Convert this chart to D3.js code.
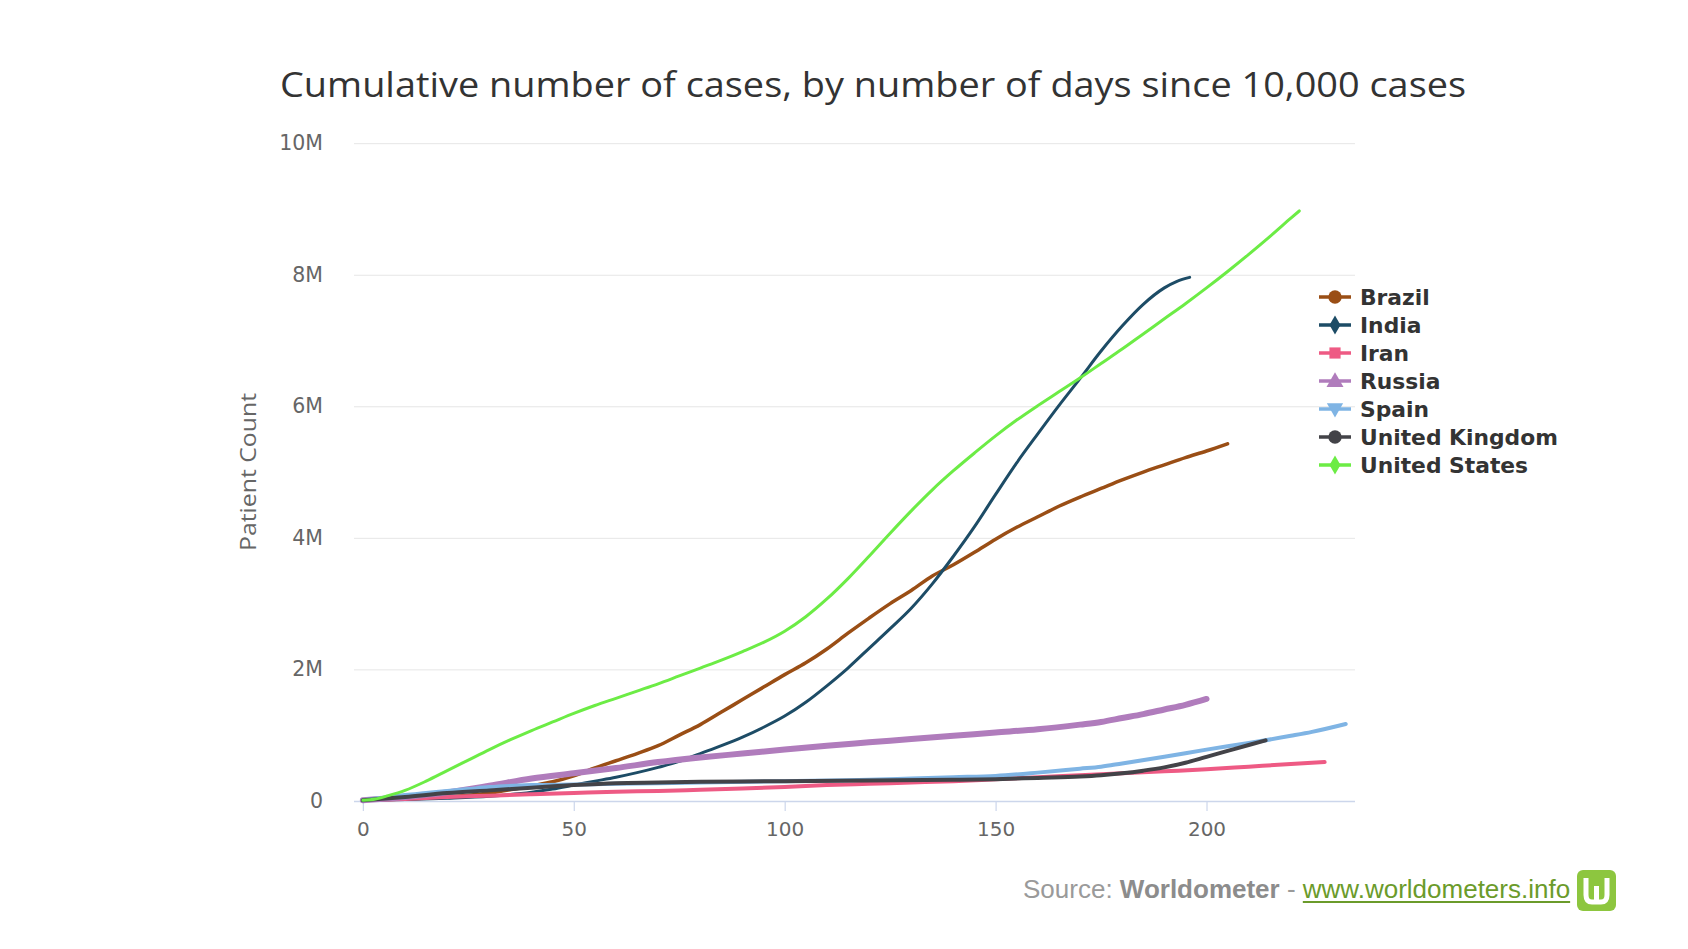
<!DOCTYPE html>
<html>
<head>
<meta charset="utf-8">
<script src="https://cdn.jsdelivr.net/npm/d3@7"></script>
<style>
  html, body { margin: 0; padding: 0; background: #fff; }
  svg { display: block; }
</style>
</head>
<body>
<svg id="chart" width="1688" height="949"></svg>
<script>
// ---------- DATA (values in millions of cases, by days since 10,000 cases) ----------
const seriesNames = ["Brazil", "India", "Iran", "Russia", "Spain", "United Kingdom", "United States"];

const brazilData = [[0,0.01],[10,0.03],[20,0.06],[30,0.12],[40,0.23],[45,0.29],[50,0.38],[55,0.50],[60,0.61],[65,0.72],[70,0.84],[75,1.00],[80,1.16],[85,1.35],[90,1.54],[95,1.73],[100,1.92],[105,2.10],[110,2.31],[115,2.55],[120,2.78],[125,3.00],[130,3.20],[135,3.42],[140,3.59],[145,3.78],[150,3.98],[155,4.16],[160,4.32],[165,4.48],[170,4.62],[175,4.75],[180,4.88],[185,5.00],[190,5.11],[195,5.22],[200,5.32],[205,5.43]];

const indiaData = [[0,0.01],[10,0.02],[20,0.04],[30,0.07],[40,0.13],[45,0.18],[50,0.24],[55,0.30],[60,0.36],[65,0.43],[70,0.51],[75,0.60],[80,0.72],[85,0.84],[90,0.97],[95,1.12],[100,1.29],[105,1.50],[110,1.75],[115,2.02],[120,2.32],[125,2.62],[130,2.93],[135,3.30],[140,3.72],[145,4.17],[150,4.66],[155,5.14],[160,5.58],[165,6.01],[170,6.42],[175,6.84],[180,7.22],[185,7.55],[190,7.80],[193,7.90],[196,7.96]];

const iranData = [[0,0.01],[10,0.03],[20,0.06],[30,0.08],[40,0.10],[50,0.12],[60,0.14],[70,0.15],[80,0.17],[90,0.19],[100,0.21],[110,0.24],[120,0.26],[130,0.28],[140,0.30],[150,0.33],[160,0.36],[170,0.39],[180,0.42],[190,0.45],[200,0.48],[210,0.52],[220,0.56],[228,0.59]];

const russiaData = [[0,0.01],[10,0.06],[20,0.13],[30,0.23],[40,0.34],[50,0.42],[60,0.50],[70,0.59],[80,0.66],[90,0.72],[100,0.78],[110,0.84],[120,0.89],[130,0.94],[140,0.99],[150,1.04],[160,1.09],[170,1.16],[175,1.20],[180,1.26],[185,1.32],[190,1.39],[195,1.46],[200,1.55]];

const spainData = [[0,0.01],[5,0.05],[10,0.09],[15,0.12],[20,0.15],[25,0.18],[30,0.21],[40,0.24],[50,0.25],[60,0.26],[80,0.28],[100,0.30],[120,0.32],[130,0.34],[140,0.36],[150,0.38],[160,0.43],[170,0.49],[175,0.52],[180,0.57],[190,0.67],[200,0.78],[210,0.88],[220,0.99],[225,1.05],[233,1.17]];

const ukData = [[0,0.01],[10,0.06],[20,0.12],[30,0.16],[40,0.20],[50,0.24],[60,0.27],[70,0.28],[80,0.29],[100,0.30],[120,0.31],[140,0.32],[150,0.33],[160,0.35],[170,0.37],[175,0.39],[180,0.42],[185,0.46],[190,0.51],[195,0.58],[200,0.67],[205,0.76],[210,0.85],[214,0.92]];

const usData = [[0,0.01],[3,0.03],[6,0.08],[10,0.16],[15,0.30],[20,0.46],[25,0.62],[30,0.78],[35,0.93],[40,1.07],[45,1.20],[50,1.33],[55,1.45],[60,1.56],[65,1.67],[70,1.78],[75,1.90],[80,2.02],[85,2.14],[90,2.27],[95,2.41],[100,2.58],[105,2.80],[110,3.07],[115,3.38],[120,3.72],[125,4.07],[130,4.41],[135,4.73],[140,5.02],[145,5.29],[150,5.55],[155,5.79],[160,6.01],[165,6.22],[170,6.43],[175,6.65],[180,6.87],[185,7.10],[190,7.33],[195,7.56],[200,7.80],[205,8.05],[210,8.31],[215,8.58],[220,8.86],[222,8.97]];

const xTicks = [0, 50, 100, 150, 200];
const yTicks = [0, 2, 4, 6, 8, 10];
const yTickLabels = ["0", "2M", "4M", "6M", "8M", "10M"];

const titleText = "Cumulative number of cases, by number of days since 10,000 cases";
const yAxisTitle = "Patient Count";

// ---------- STYLE ----------
const allData = [brazilData, indiaData, iranData, russiaData, spainData, ukData, usData];
const colors = ["#9a4e15", "#1d4c66", "#ee5a84", "#b07cbc", "#7fb4e4", "#434348", "#6cec45"];
const widths = [3.5, 3, 4, 6, 4, 4, 3];
const symbols = [d3.symbolCircle, d3.symbolDiamond, d3.symbolSquare, d3.symbolTriangle, "down", d3.symbolCircle, d3.symbolDiamond];

const plot = { left: 354, right: 1355, top: 143.2, bottom: 800.9 };

const svg = d3.select("#chart");
svg.append("rect").attr("width", 1688).attr("height", 949).attr("fill", "#fff");

const x = d3.scaleLinear().domain([-2.1, 235.2]).range([plot.left, plot.right]);
const y = d3.scaleLinear().domain([0, 10]).range([plot.bottom, plot.top]);

// title
svg.append("text")
  .attr("x", 280).attr("y", 97)
  .attr("textLength", 1186).attr("lengthAdjust", "spacingAndGlyphs")
  .style("font-family", "'Open Sans', 'DejaVu Sans', sans-serif")
  .style("font-size", "35px").style("fill", "#333")
  .text(titleText);

// gridlines
const grid = svg.append("g").attr("transform", `translate(${plot.left},0)`)
  .call(d3.axisLeft(y).tickValues(yTicks.filter(d => d > 0)).tickSize(-(plot.right - plot.left)).tickFormat(""));
grid.select(".domain").remove();
grid.selectAll("line").attr("stroke", "#e6e6e6").attr("stroke-width", 1);

// y labels
const yAx = svg.append("g").attr("transform", `translate(${plot.left},0)`)
  .call(d3.axisLeft(y).tickValues(yTicks).tickSize(0).tickPadding(31).tickFormat((d, i) => yTickLabels[i]));
yAx.select(".domain").remove();
yAx.selectAll("text")
  .style("font-family", "'DejaVu Sans', Verdana, sans-serif")
  .style("font-size", "20.5px").style("fill", "#666");

// y title
svg.append("text")
  .attr("transform", "translate(256,472) rotate(-90)")
  .attr("text-anchor", "middle")
  .attr("textLength", 158).attr("lengthAdjust", "spacingAndGlyphs")
  .style("font-family", "'Open Sans', sans-serif")
  .style("font-size", "22px").style("fill", "#666")
  .text(yAxisTitle);

// x axis
const xAx = svg.append("g").attr("transform", `translate(0,${plot.bottom})`)
  .call(d3.axisBottom(x).tickValues(xTicks).tickSize(10).tickPadding(11));
xAx.select(".domain").attr("stroke", "#ccd6eb").attr("stroke-width", 1.5)
  .attr("d", `M${plot.left},0.5H${plot.right}`);
xAx.selectAll("line").attr("stroke", "#ccd6eb").attr("stroke-width", 1.2);
xAx.selectAll("text")
  .style("font-family", "'DejaVu Sans', Verdana, sans-serif")
  .style("font-size", "20px").style("fill", "#666");

// lines
const line = d3.line()
  .x(d => x(d[0])).y(d => y(d[1]))
  .curve(d3.curveMonotoneX);

const lines = svg.append("g").attr("fill", "none")
  .attr("stroke-linejoin", "round").attr("stroke-linecap", "round");
allData.forEach((data, i) => {
  lines.append("path")
    .attr("d", line(data))
    .attr("stroke", colors[i])
    .attr("stroke-width", widths[i]);
});

// legend
const legend = svg.append("g");
const legX = 1319, legY0 = 297, legStep = 28;
seriesNames.forEach((name, i) => {
  const g = legend.append("g").attr("transform", `translate(${legX},${legY0 + i * legStep})`);
  g.append("line").attr("x1", 0).attr("x2", 32).attr("y1", 0).attr("y2", 0)
    .attr("stroke", colors[i]).attr("stroke-width", 3.5);
  const sym = symbols[i];
  let path;
  if (sym === "down") {
    path = d3.symbol().type(d3.symbolTriangle).size(115)();
    g.append("path").attr("d", path).attr("fill", colors[i])
      .attr("transform", "translate(16,-1) rotate(180)");
  } else {
    const size = sym === d3.symbolCircle ? 140 : sym === d3.symbolDiamond ? 105 : 125;
    path = d3.symbol().type(sym).size(size)();
    g.append("path").attr("d", path).attr("fill", colors[i])
      .attr("transform", `translate(16,${sym === d3.symbolTriangle ? 1 : 0})`);
  }
  g.append("text").attr("x", 41).attr("y", 0).attr("dy", "0.36em")
    .style("font-family", "'DejaVu Sans', Verdana, sans-serif")
    .style("font-weight", "bold")
    .style("font-size", "21.8px").style("fill", "#333")
    .text(name);
});

// source credit
const src = svg.append("g");
const parts = [
  { t: "Source: ", w: "normal", c: "#9a9a9a", u: false },
  { t: "Worldometer", w: "bold", c: "#8c8c8c", u: false },
  { t: " - ", w: "normal", c: "#9a9a9a", u: false },
  { t: "www.worldometers.info", w: "normal", c: "#6b9b2b", u: true }
];
let cx = 1023;
parts.forEach(p => {
  const t = src.append("text").attr("x", cx).attr("y", 898)
    .style("font-family", "'Liberation Sans', Arial, sans-serif")
    .style("font-size", "26px").style("font-weight", p.w).style("fill", p.c)
    .style("white-space", "pre")
    .text(p.t);
  const w = t.node().getComputedTextLength();
  if (p.u) {
    src.append("rect").attr("x", cx).attr("y", 901).attr("width", w).attr("height", 2).attr("fill", p.c);
  }
  cx += w;
});

// logo
const logo = svg.append("g").attr("transform", "translate(1577,870)");
logo.append("rect").attr("width", 39).attr("height", 41).attr("rx", 6).attr("fill", "#8dc63f");
logo.append("path")
  .attr("d", "M9,8 V25 Q9,32 15,32 H24 Q30,32 30,25 V8 M19.5,16 V31")
  .attr("fill", "none").attr("stroke", "#fff").attr("stroke-width", 5).attr("stroke-linecap", "butt");
</script>
</body>
</html>
